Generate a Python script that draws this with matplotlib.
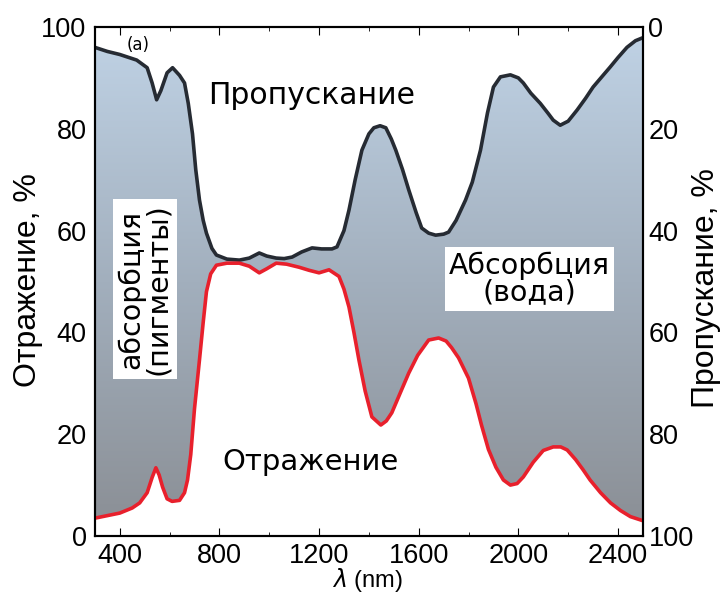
"""Спектр листа: отражение и пропускание (воспроизведение рисунка)."""

import numpy as np
import matplotlib

matplotlib.use("Agg")
import matplotlib.pyplot as plt
from matplotlib.colors import LinearSegmentedColormap
from matplotlib.ticker import MultipleLocator

# длина волны, нм, и кривая пропускания (в координатах левой оси: 100 - T)
trans_wl = [300, 350, 400, 468, 510, 530, 548, 565, 590, 612, 640, 660, 675, 692,
            705, 720, 735, 748, 770, 788, 830, 880, 920, 960, 990, 1028, 1060,
            1092, 1130, 1172, 1210, 1252, 1272, 1300, 1320, 1345, 1372, 1400,
            1420, 1445, 1468, 1490, 1508, 1535, 1560, 1590, 1612, 1640, 1668,
            1700, 1720, 1750, 1788, 1815, 1848, 1876, 1900, 1928, 1968, 2000,
            2020, 2050, 2088, 2120, 2140, 2168, 2200, 2236, 2270, 2300, 2340,
            2368, 2400, 2436, 2470, 2500]
trans_val = [96.0, 95.2, 94.6, 93.5, 92.0, 89.0, 85.7, 87.5, 91.0, 92.0, 90.5,
             89.0, 85.0, 79.0, 72.0, 66.0, 62.0, 59.5, 56.5, 55.2, 54.4, 54.2,
             54.6, 55.6, 55.0, 54.6, 54.5, 54.8, 55.8, 56.6, 56.4, 56.4, 56.8,
             60.0, 64.0, 70.0, 75.8, 79.0, 80.2, 80.6, 80.2, 78.0, 75.8, 72.0,
             68.0, 63.5, 60.5, 59.5, 59.1, 59.3, 59.7, 62.0, 66.0, 69.5, 75.8,
             83.1, 88.2, 90.2, 90.6, 90.0, 89.0, 87.0, 85.0, 83.0, 81.7, 80.7,
             81.5, 83.7, 86.0, 88.2, 90.5, 92.1, 94.0, 96.0, 97.3, 97.9]

# кривая отражения, %
refl_wl = [300, 350, 400, 450, 480, 510, 530, 545, 558, 572, 590, 610, 640, 660,
           672, 685, 700, 720, 735, 748, 765, 788, 830, 880, 920, 960, 990,
           1028, 1070, 1120, 1160, 1200, 1240, 1280, 1300, 1320, 1340, 1360,
           1385, 1412, 1448, 1470, 1492, 1525, 1560, 1596, 1640, 1680, 1710,
           1732, 1760, 1800, 1830, 1852, 1880, 1910, 1940, 1968, 1995, 2020,
           2060, 2100, 2140, 2170, 2196, 2230, 2260, 2288, 2330, 2370, 2410,
           2450, 2500]
refl_val = [3.5, 4.0, 4.5, 5.5, 6.5, 8.5, 11.5, 13.4, 12.0, 9.6, 7.3, 6.8, 7.0,
            8.5, 11.0, 16.0, 25.0, 34.6, 42.0, 48.0, 51.5, 53.2, 53.6, 53.6,
            53.0, 51.7, 52.5, 53.6, 53.4, 52.8, 52.2, 51.7, 52.3, 51.0, 48.5,
            45.0, 40.0, 34.6, 28.5, 23.4, 21.8, 22.6, 24.2, 28.0, 32.0, 35.5,
            38.5, 38.9, 38.3, 37.0, 35.0, 31.0, 26.0, 21.8, 17.0, 13.5, 11.0,
            10.0, 10.3, 11.6, 14.5, 16.8, 17.5, 17.5, 16.9, 15.0, 13.0, 11.0,
            8.5, 6.5, 5.0, 3.8, 3.0]

x_ticks = [400, 800, 1200, 1600, 2000, 2400]
y_ticks = [0, 20, 40, 60, 80, 100]

plt.rcParams["font.family"] = ["Liberation Sans", "DejaVu Sans"]

fig = plt.figure(figsize=(7.24, 5.96), dpi=100)
ax = fig.add_axes([0.131, 0.1007, 0.757, 0.854])
ax.set_xlim(300, 2500)
ax.set_ylim(0, 100)

# градиентная заливка между кривыми
cmap = LinearSegmentedColormap.from_list("leaf", ["#8a8e94", "#a2afbd", "#c0d3e6"])
grad = np.linspace(0, 1, 256).reshape(-1, 1)
img = ax.imshow(grad, cmap=cmap, origin="lower", aspect="auto",
                extent=[300, 2500, 0, 100], zorder=1)
poly_x = list(trans_wl) + list(refl_wl[::-1])
poly_y = list(trans_val) + list(refl_val[::-1])
patch = plt.Polygon(np.column_stack([poly_x, poly_y]), closed=True,
                    facecolor="none", edgecolor="none")
ax.add_patch(patch)
img.set_clip_path(patch)

ax.plot(trans_wl, trans_val, color="#262b33", lw=2.6, zorder=3)
ax.plot(refl_wl, refl_val, color="#e8202c", lw=2.6, zorder=3)

ax.set_xticks(x_ticks)
ax.xaxis.set_minor_locator(MultipleLocator(200))
ax.set_yticks(y_ticks)
ax.tick_params(axis="x", which="both", direction="in", top=True,
               labelsize=19.5, pad=5)
ax.tick_params(axis="x", which="major", length=6)
ax.tick_params(axis="x", which="minor", length=3)
ax.tick_params(axis="y", direction="in", length=0, labelsize=19.5, pad=6)

ax2 = ax.twinx()
ax2.set_ylim(100, 0)
ax2.set_yticks(y_ticks)
ax2.tick_params(axis="y", direction="in", length=0, labelsize=19.5, pad=4)

for a in (ax, ax2):
    for s in a.spines.values():
        s.set_linewidth(1.5)

fig.text(0.507, 0.004, r"$\lambda$ (nm)", fontsize=17, ha="center", va="bottom")
fig.text(0.039, 0.530, "Отражение, %", rotation=90, fontsize=23,
         ha="center", va="center")
fig.text(0.975, 0.517, "Пропускание, %", rotation=90, fontsize=23,
         ha="center", va="center")

box = dict(facecolor="white", edgecolor="none", pad=3)
ax.text(472, 96.5, "(a)", fontsize=12, ha="center", va="center", zorder=5,
        family=["DejaVu Sans"])
ax.text(1170, 86.5, "Пропускание", fontsize=21.5, ha="center", va="center",
        zorder=5, family=["DejaVu Sans"])
ax.text(1165, 14.5, "Отражение", fontsize=21, ha="center", va="center",
        zorder=5, family=["DejaVu Sans"])
ax.text(500, 48.5, "абсорбция\n(пигменты)", rotation=90, fontsize=20.5,
        ha="center", va="center", linespacing=0.95, bbox=box, zorder=5,
        family=["DejaVu Sans"])
ax.text(2045, 50.5, "Абсорбция\n(вода)", fontsize=20.5, ha="center",
        va="center", linespacing=0.95, bbox=box, zorder=5,
        family=["DejaVu Sans"])

fig.savefig("out.png", dpi=100)
